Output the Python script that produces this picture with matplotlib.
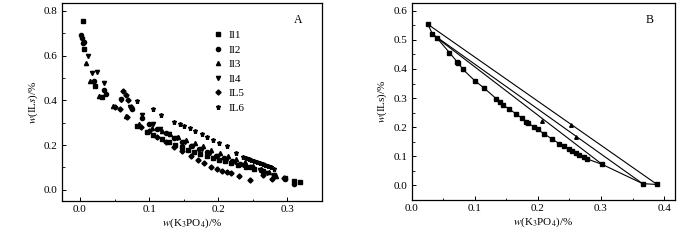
import matplotlib.pyplot as plt
from matplotlib.ticker import MultipleLocator

plt.rcParams['font.family'] = ['Liberation Serif', 'DejaVu Serif']
plt.rcParams['mathtext.fontset'] = 'stix'
plt.rcParams['font.size'] = 8

# Panel A: binodal data for the six ionic liquids
il1_x = [0.004, 0.006, 0.022, 0.032, 0.083, 0.097, 0.105, 0.119, 0.128, 0.138, 0.147, 0.156,
         0.165, 0.174, 0.183, 0.192, 0.201, 0.210, 0.219, 0.228, 0.240, 0.252, 0.265, 0.280,
         0.296, 0.309, 0.318]
il1_y = [0.756, 0.628, 0.464, 0.415, 0.286, 0.260, 0.245, 0.226, 0.212, 0.200, 0.190, 0.180,
         0.170, 0.160, 0.151, 0.143, 0.135, 0.127, 0.119, 0.111, 0.102, 0.094, 0.083, 0.068,
         0.052, 0.038, 0.033]
il2_x = [0.002, 0.003, 0.005, 0.006, 0.020, 0.035, 0.038, 0.059, 0.075, 0.090, 0.100, 0.112,
         0.124, 0.136, 0.148, 0.160, 0.172, 0.184, 0.196, 0.208, 0.220, 0.232, 0.246, 0.262,
         0.280, 0.296, 0.310]
il2_y = [0.692, 0.677, 0.655, 0.662, 0.488, 0.446, 0.427, 0.405, 0.363, 0.320, 0.296, 0.272,
         0.252, 0.233, 0.215, 0.198, 0.182, 0.167, 0.153, 0.140, 0.127, 0.114, 0.101, 0.087,
         0.067, 0.048, 0.028]
il3_x = [0.009, 0.014, 0.028, 0.048, 0.066, 0.086, 0.104, 0.118, 0.130, 0.142, 0.154, 0.166,
         0.178, 0.190, 0.202, 0.214, 0.226, 0.238, 0.250, 0.262, 0.274, 0.283]
il3_y = [0.565, 0.488, 0.420, 0.374, 0.330, 0.292, 0.275, 0.262, 0.248, 0.236, 0.222, 0.208,
         0.194, 0.180, 0.166, 0.152, 0.138, 0.124, 0.108, 0.094, 0.078, 0.062]
il4_x = [0.012, 0.017, 0.024, 0.035, 0.060, 0.072, 0.090, 0.106, 0.116, 0.128, 0.140, 0.152,
         0.164, 0.176, 0.188, 0.200, 0.212, 0.224, 0.236, 0.248, 0.260, 0.270]
il4_y = [0.598, 0.523, 0.528, 0.476, 0.400, 0.370, 0.335, 0.295, 0.270, 0.250, 0.232, 0.214,
         0.198, 0.182, 0.166, 0.150, 0.137, 0.124, 0.112, 0.100, 0.088, 0.074]
il5_x = [0.062, 0.066, 0.070, 0.074, 0.058, 0.050, 0.068, 0.088, 0.100, 0.112, 0.124, 0.136,
         0.148, 0.160, 0.170, 0.180, 0.190, 0.198, 0.206, 0.212, 0.218, 0.230, 0.246, 0.265,
         0.278, 0.295]
il5_y = [0.441, 0.424, 0.402, 0.372, 0.360, 0.372, 0.325, 0.282, 0.262, 0.238, 0.214, 0.192,
         0.172, 0.152, 0.134, 0.118, 0.104, 0.094, 0.085, 0.078, 0.074, 0.062, 0.045, 0.068,
         0.047, 0.055]
il6_x = [0.083, 0.105, 0.117, 0.136, 0.144, 0.151, 0.159, 0.167, 0.176, 0.184, 0.193, 0.201,
         0.212, 0.226, 0.236, 0.240, 0.244, 0.248, 0.252, 0.256, 0.260, 0.264, 0.268, 0.272,
         0.276, 0.280]
il6_y = [0.398, 0.361, 0.335, 0.302, 0.294, 0.285, 0.275, 0.263, 0.250, 0.238, 0.223, 0.211,
         0.198, 0.164, 0.146, 0.141, 0.136, 0.132, 0.128, 0.124, 0.120, 0.115, 0.110, 0.105,
         0.100, 0.095]
labels_a = ['Il1', 'Il2', 'Il3', 'Il4', 'IL5', 'IL6']
markers_a = ['s', 'o', '^', 'v', 'D', '*']

# Panel B: binodal curve and three tie lines
bin_x = [0.026, 0.033, 0.040, 0.060, 0.072, 0.074, 0.081, 0.100, 0.115, 0.134, 0.140, 0.145,
         0.155, 0.165, 0.175, 0.182, 0.185, 0.194, 0.200, 0.210, 0.222, 0.234, 0.241, 0.249,
         0.254, 0.260, 0.266, 0.273, 0.278, 0.302, 0.366, 0.389]
bin_y = [0.553, 0.520, 0.507, 0.456, 0.425, 0.421, 0.399, 0.360, 0.334, 0.298, 0.287, 0.275,
         0.262, 0.246, 0.231, 0.218, 0.213, 0.201, 0.192, 0.177, 0.160, 0.143, 0.134, 0.126,
         0.119, 0.111, 0.103, 0.096, 0.091, 0.072, 0.006, 0.003]
tie_top_x = [0.026, 0.033, 0.040]
tie_top_y = [0.553, 0.520, 0.507]
tie_bot_x = [0.389, 0.366, 0.302]
tie_bot_y = [0.003, 0.006, 0.072]
feed_x = [0.252, 0.261, 0.207]
feed_y = [0.207, 0.165, 0.222]

fig = plt.figure(figsize=(7, 2.4), dpi=100)
ax1 = fig.add_axes([0.0886, 0.1625, 0.3714, 0.825])
ax2 = fig.add_axes([0.588, 0.167, 0.376, 0.821])

series = [(il1_x, il1_y), (il2_x, il2_y), (il3_x, il3_y), (il4_x, il4_y), (il5_x, il5_y), (il6_x, il6_y)]
for (xs, ys), lab, mk in zip(series, labels_a, markers_a):
    size = 3.0 if mk != '*' else 3.6
    if mk == 'D':
        size = 2.6
    ax1.plot(xs, ys, linestyle='none', marker=mk, markersize=size, color='black', label=lab)

ax1.set_xlim(-0.026, 0.35)
ax1.set_ylim(-0.05, 0.835)
ax1.xaxis.set_major_locator(MultipleLocator(0.1))
ax1.xaxis.set_minor_locator(MultipleLocator(0.05))
ax1.yaxis.set_major_locator(MultipleLocator(0.2))
ax1.yaxis.set_minor_locator(MultipleLocator(0.1))
ax1.set_xlabel(r'$w$(K$_3$PO$_4$)/%', labelpad=2)
ax1.set_ylabel(r'$w$(IL$s$)/%', labelpad=3)
ax1.text(0.89, 0.9, 'A', transform=ax1.transAxes, fontsize=8.5)
ax1.legend(loc='upper left', bbox_to_anchor=(0.55, 0.9), frameon=False, handlelength=1.0,
           handletextpad=0.4, labelspacing=0.42, borderpad=0.2, fontsize=8)

ax2.plot(bin_x, bin_y, color='black', linewidth=0.8, marker='s', markersize=2.6)
for tx0, ty0, tx1, ty1 in zip(tie_top_x, tie_top_y, tie_bot_x, tie_bot_y):
    ax2.plot([tx0, tx1], [ty0, ty1], color='black', linewidth=0.8)
ax2.plot(feed_x, feed_y, linestyle='none', marker='^', markersize=2.6, color='black')

ax2.set_xlim(0.0, 0.417)
ax2.set_ylim(-0.05, 0.627)
ax2.xaxis.set_major_locator(MultipleLocator(0.1))
ax2.xaxis.set_minor_locator(MultipleLocator(0.05))
ax2.yaxis.set_major_locator(MultipleLocator(0.1))
ax2.yaxis.set_minor_locator(MultipleLocator(0.05))
ax2.set_xlabel(r'$w$(K$_3$PO$_4$)/%', labelpad=2)
ax2.set_ylabel(r'$w$(ILs)/%', labelpad=3)
ax2.text(0.89, 0.9, 'B', transform=ax2.transAxes, fontsize=8.5)

for ax in (ax1, ax2):
    ax.tick_params(which='both', direction='in', top=False, right=False, labelsize=8, pad=3)
    ax.tick_params(which='major', length=3, width=0.7)
    ax.tick_params(which='minor', length=1.8, width=0.6)
    for sp in ax.spines.values():
        sp.set_linewidth(0.9)

fig.savefig('out.png', dpi=100)
